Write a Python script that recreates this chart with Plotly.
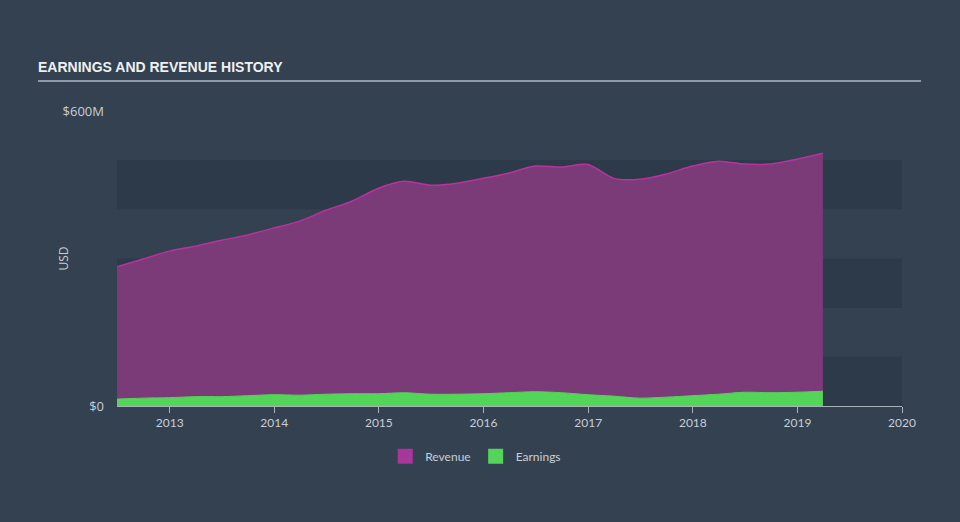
import plotly.graph_objects as go

dates = [
    "2012-06-30", "2012-09-30", "2012-12-31",
    "2013-03-31", "2013-06-30", "2013-09-30", "2013-12-31",
    "2014-03-31", "2014-06-30", "2014-09-30", "2014-12-31",
    "2015-03-31", "2015-06-30", "2015-09-30", "2015-12-31",
    "2016-03-31", "2016-06-30", "2016-09-30", "2016-12-31",
    "2017-03-31", "2017-06-30", "2017-09-30", "2017-12-31",
    "2018-03-31", "2018-06-30", "2018-09-30", "2018-12-31",
    "2019-03-31",
]
revenue_m = [
    283, 299, 315,
    325, 337, 348, 362,
    376, 398, 417, 443,
    457, 449, 453, 463,
    474, 488, 486, 491,
    463, 461, 472, 488,
    498, 492, 492, 502,
    514,
]
earnings_m = [
    14, 16, 17,
    19, 19, 21, 23,
    22, 24, 25, 25,
    27, 24, 24, 25,
    27, 29, 27, 23,
    20, 16, 18, 21,
    24, 28, 27, 28,
    30,
]
y_tick_vals = [0, 600e6]
y_tick_text = ["$0", "$600M"]
x_tick_years = [2013, 2014, 2015, 2016, 2017, 2018, 2019, 2020]

revenue = [v * 1e6 for v in revenue_m]
earnings = [v * 1e6 for v in earnings_m]

BG = "#334151"
BAND = "#2d3a49"
TXT = "#c9ced4"
REV_FILL = "#7b3a78"
REV_LINE = "#b8339e"
EARN = "#52d558"

fig = go.Figure()
fig.add_trace(go.Scatter(
    x=dates, y=revenue, name="Revenue", mode="lines", showlegend=False,
    line=dict(color=REV_LINE, width=1.5, shape="spline", smoothing=0.8),
    fill="tozeroy", fillcolor=REV_FILL,
))
fig.add_trace(go.Scatter(
    x=dates, y=earnings, name="Earnings", mode="lines", showlegend=False,
    line=dict(color=EARN, width=1, shape="spline", smoothing=0.8),
    fill="tozeroy", fillcolor=EARN,
))
# legend entries with square swatches
fig.add_trace(go.Scatter(x=[None], y=[None], name="Revenue", mode="markers",
                         marker=dict(symbol="square", size=15, color="#a8379a")))
fig.add_trace(go.Scatter(x=[None], y=[None], name="Earnings", mode="markers",
                         marker=dict(symbol="square", size=15, color=EARN)))

shapes = []
for lo, hi in [(0, 100e6), (200e6, 300e6), (400e6, 500e6)]:
    shapes.append(dict(type="rect", xref="paper", yref="y", x0=0, x1=1, y0=lo, y1=hi,
                       fillcolor=BAND, line=dict(width=0), layer="below"))
shapes.append(dict(type="line", xref="paper", yref="paper", x0=-0.1006, x1=1.0242,
                   y0=1.1017, y1=1.1017, line=dict(color="#8e99a5", width=2)))

fig.update_layout(
    width=960, height=522,
    paper_bgcolor=BG, plot_bgcolor=BG,
    margin=dict(l=117, r=58, t=111, b=116),
    shapes=shapes,
    title=dict(text="<b>EARNINGS AND REVENUE HISTORY</b>", xref="container", yref="container",
               x=38 / 960, xanchor="left", y=1 - 67 / 522, yanchor="middle",
               font=dict(family="Liberation Sans", size=14, color="#eef0f2")),
    showlegend=True,
    legend=dict(orientation="h", x=0.457, xanchor="center", y=-0.17, yanchor="middle",
                font=dict(family="Lato", size=12, color=TXT), bgcolor="rgba(0,0,0,0)",
                itemwidth=30),
    annotations=[dict(text="USD", xref="paper", yref="paper", x=(63 - 117) / 785, y=0.5,
                      xanchor="center", yanchor="middle", textangle=-90, showarrow=False,
                      font=dict(family="Open Sans", size=12, color=TXT))],
    xaxis=dict(
        type="date", range=["2012-07-01", "2020-01-01"],
        tickvals=[f"{y}-01-01" for y in x_tick_years],
        ticktext=[str(y) for y in x_tick_years],
        showgrid=False, zeroline=False,
        showline=True, linecolor="#a9b1ba", linewidth=1,
        ticks="outside", ticklen=6, tickcolor="#a9b1ba",
        tickfont=dict(family="Lato", size=12, color=TXT),
    ),
    yaxis=dict(
        range=[0, 600e6], tickvals=y_tick_vals, ticktext=y_tick_text,
        showgrid=False, zeroline=False, showline=False,
        ticklabelstandoff=12,
        tickfont=dict(family="Open Sans", size=13, color=TXT),
    ),
)

fig.write_html("out.html")
